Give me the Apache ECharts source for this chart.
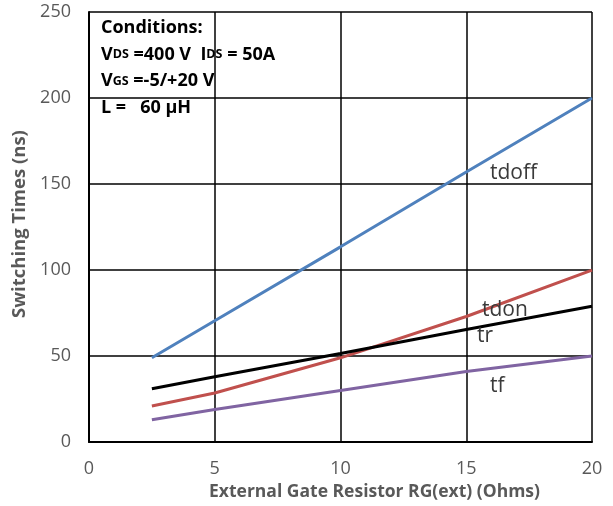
<!DOCTYPE html>
<html>
<head>
<meta charset="utf-8">
<script src="https://cdn.jsdelivr.net/npm/echarts@6/dist/echarts.min.js"></script>
<style>
  html, body { margin: 0; padding: 0; background: #fff; }
  #chart { width: 613px; height: 506px; }
</style>
</head>
<body>
<div id="chart"></div>
<script>
// Gate resistance (Ohms) and switching times (ns)
const rg = [2.5, 5, 10, 15, 20];
const tdoff = [49, 70.5, 113.5, 157, 200];
const tdon = [21, 28.5, 49, 73, 100];
const tr = [31, 38, 51.5, 65.5, 79];
const tf = [13, 19, 30, 41, 50];

const xTicks = [0, 5, 10, 15, 20];
const yTicks = [0, 50, 100, 150, 200, 250];

const FONT = '"Open Sans", "Noto Sans", sans-serif';
const TICK_COLOR = '#595959';

function pairs(ys) { return rg.map((x, i) => [x, ys[i]]); }

function lineSeries(name, ys, color) {
  return {
    name, type: 'line', data: pairs(ys), showSymbol: false, symbol: 'none',
    lineStyle: { color, width: 3 }, z: 5
  };
}

const chart = echarts.init(document.getElementById('chart'));
chart.setOption({
  animation: false,
  backgroundColor: '#fff',
  grid: { left: 89, right: 21, top: 12, bottom: 63 },
  xAxis: {
    type: 'value', min: xTicks[0], max: xTicks[xTicks.length - 1], interval: 5,
    name: 'External Gate Resistor RG(ext) (Ohms)', nameLocation: 'middle', nameGap: 40,
    nameTextStyle: { fontFamily: FONT, fontWeight: 'bold', fontSize: 17.5, color: TICK_COLOR, padding: [0, 0, 0, 68] },
    axisLine: { lineStyle: { color: '#000', width: 2 } },
    axisTick: { show: false },
    axisLabel: { fontFamily: FONT, fontSize: 18, color: TICK_COLOR, margin: 18 },
    splitLine: { show: true, lineStyle: { color: '#000', width: 1.5 } }
  },
  yAxis: {
    type: 'value', min: yTicks[0], max: yTicks[yTicks.length - 1], interval: 50,
    name: 'Switching Times (ns)', nameLocation: 'middle', nameGap: 60,
    nameTextStyle: { fontFamily: FONT, fontWeight: 'bold', fontSize: 18.5, color: TICK_COLOR, padding: [0, 0, 0, 6] },
    axisLine: { show: true, lineStyle: { color: '#000', width: 2 } },
    axisTick: { show: false },
    axisLabel: { fontFamily: FONT, fontSize: 18, color: TICK_COLOR, margin: 18 },
    splitLine: { show: true, lineStyle: { color: '#000', width: 1.5 } }
  },
  series: [
    lineSeries('tdoff', tdoff, '#4F81BD'),
    lineSeries('tdon', tdon, '#C0504D'),
    lineSeries('tr', tr, '#000000'),
    lineSeries('tf', tf, '#8064A2')
  ],
  graphic: [
    {
      type: 'text', left: 101, top: 19, z: 10,
      style: {
        text: '{b|Conditions:}\n{b|V}{s|DS}{b| =400 V  I}{s|DS}{b| = 50A}\n{b|V}{s|GS}{b| =-5/+20 V}\n{b|L =   60 µH}',
        rich: {
          b: { fontFamily: FONT, fontWeight: 'bold', fontSize: 18, color: '#000', lineHeight: 26.5 },
          s: { fontFamily: FONT, fontWeight: 'bold', fontSize: 12.5, color: '#000', lineHeight: 26.5 }
        }
      }
    },
    { type: 'text', left: 490, top: 163, z: 10, style: { text: 'tdoff', fontFamily: FONT, fontSize: 21, fill: '#3a3a3a' } },
    { type: 'text', left: 482, top: 300, z: 10, style: { text: 'tdon', fontFamily: FONT, fontSize: 21, fill: '#3a3a3a' } },
    { type: 'text', left: 477, top: 326, z: 10, style: { text: 'tr', fontFamily: FONT, fontSize: 21, fill: '#3a3a3a' } },
    { type: 'text', left: 490, top: 376, z: 10, style: { text: 'tf', fontFamily: FONT, fontSize: 21, fill: '#3a3a3a' } }
  ]
});
</script>
</body>
</html>
